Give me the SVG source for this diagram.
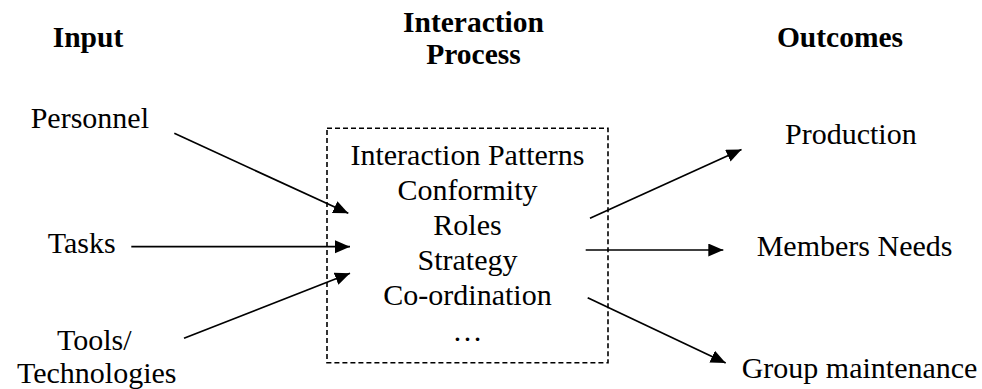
<svg xmlns="http://www.w3.org/2000/svg" width="982" height="389" viewBox="0 0 982 389">
  <defs>
    <style>
      text { font-family: "Liberation Serif", "Times New Roman", serif; fill: #000; }
      .head { font-size: 29.5px; font-weight: bold; text-anchor: middle; }
      .label { font-size: 30px; }
      .mid { font-size: 30px; text-anchor: middle; }
      .box { fill: none; stroke: #000; stroke-width: 1.6; stroke-dasharray: 5 3; }
      .arrow { fill: none; stroke: #000; stroke-width: 1.7; marker-end: url(#head); }
    </style>
    <marker id="head" markerUnits="userSpaceOnUse" markerWidth="16" markerHeight="14" refX="15" refY="6.5" orient="auto">
      <path d="M0,0 L15,6.5 L0,13 Z" fill="#000"/>
    </marker>
  </defs>

  <rect width="982" height="389" fill="#fff"/>

  <!-- column headings -->
  <g id="heading-input">
    <text class="head" x="88" y="47">Input</text>
  </g>
  <g id="heading-process">
    <text class="head" x="473.5" y="32">Interaction</text>
    <text class="head" x="473.5" y="64">Process</text>
  </g>
  <g id="heading-outcomes">
    <text class="head" x="840" y="47">Outcomes</text>
  </g>

  <!-- inputs -->
  <g id="personnel">
    <text class="label" x="30.7" y="128">Personnel</text>
  </g>
  <g id="tasks">
    <text class="label" x="47.7" y="253">Tasks</text>
  </g>
  <g id="tools">
    <text class="label" x="57" y="350">Tools/</text>
    <text class="label" x="17" y="383">Technologies</text>
  </g>

  <!-- interaction process -->
  <g id="process">
    <rect class="box" x="327" y="128.3" width="281" height="234.4"/>
    <text class="mid" x="467.5" y="165">Interaction Patterns</text>
    <text class="mid" x="467.5" y="200">Conformity</text>
    <text class="mid" x="467.5" y="235">Roles</text>
    <text class="mid" x="467.5" y="269.5">Strategy</text>
    <text class="mid" x="467.5" y="304.5">Co-ordination</text>
    <text class="mid" x="467.5" y="341">…</text>
  </g>

  <!-- outcomes -->
  <g id="production">
    <text class="label" x="785" y="144">Production</text>
  </g>
  <g id="members-needs">
    <text class="label" x="756.7" y="256">Members Needs</text>
  </g>
  <g id="group-maintenance">
    <text class="label" x="741.7" y="377.5">Group maintenance</text>
  </g>

  <!-- connectors -->
  <g id="connectors">
    <line class="arrow" x1="174.3" y1="133.3" x2="348.3" y2="213.3"/>
    <line class="arrow" x1="131.3" y1="246.7" x2="350" y2="246.7"/>
    <line class="arrow" x1="184" y1="338.3" x2="350" y2="273.3"/>
    <line class="arrow" x1="590" y1="218.3" x2="741.5" y2="149.5"/>
    <line class="arrow" x1="585.7" y1="250" x2="723.3" y2="250"/>
    <line class="arrow" x1="587.7" y1="297.7" x2="725.7" y2="363"/>
  </g>
</svg>
